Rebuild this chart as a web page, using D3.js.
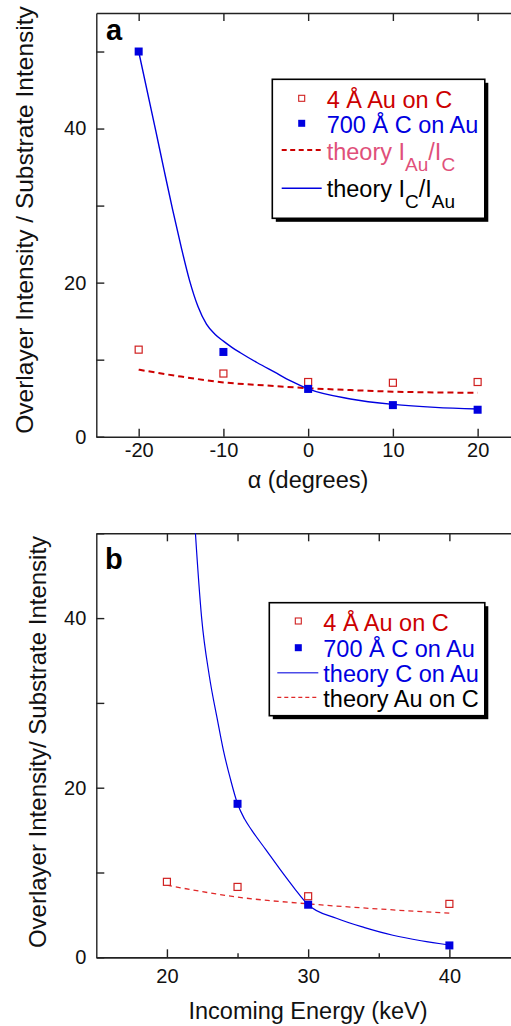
<!DOCTYPE html>
<html>
<head>
<meta charset="utf-8">
<script src="https://cdn.jsdelivr.net/npm/d3@7"></script>
<style>
  html, body { margin: 0; padding: 0; background: #fff; }
  svg { display: block; }
  text { font-family: "Liberation Sans", Arial, Helvetica, sans-serif; }
</style>
</head>
<body>
<svg id="chart" width="511" height="1026"></svg>
<script>
// ---------- DATA ----------
// Panel a: intensity ratio vs alpha (degrees)
const alphaDeg = [-20, -10, 0, 10, 20];
const auOnC_a = [11.3, 8.2, 7.1, 7.0, 7.1];       // 4 Å Au on C (open red squares)
const cOnAu_a = [50, 11.0, 6.2, 4.1, 3.5];        // 700 Å C on Au (filled blue squares)
const theoryAlphaRed = [-20, -15, -10, -5, 0, 5, 10, 15, 20];
const theoryAuC_a = [8.7, 7.8, 7.05, 6.65, 6.3, 6.05, 5.85, 5.75, 5.7];
const theoryAlphaBlue = [-20, -18, -17, -16, -15, -14, -13, -12, -11, -10, -9, -8, -6, -4, -2, 0, 5, 10, 15, 20];
const theoryCAu_a = [50, 39.8, 34.6, 29.5, 24.7, 20.3, 16.9, 14.6, 13.3, 12.4, 11.6, 10.9, 9.6, 8.4, 7.2, 6.2, 4.9, 4.2, 3.8, 3.6];
const alphaTicks = [-20, -10, 0, 10, 20];

// Panel b: intensity ratio vs incoming energy (keV)
const energyAuC = [20, 25, 30, 40];
const auOnC_b = [8.9, 8.3, 7.2, 6.3];
const energyCAu = [25, 30, 40];
const cOnAu_b = [18.1, 6.2, 1.4];
const theoryEnergyRed = [20, 25, 30, 35, 40];
const theoryAuC_b = [8.5, 7.1, 6.3, 5.7, 5.2];
const theoryEnergyBlue = [21.8, 22, 22.46, 23, 23.6, 24, 24.5, 25, 25.5, 26, 27, 28, 29, 30, 32, 34, 36, 38, 40];
const theoryCAu_b = [56, 50.5, 40, 33.2, 27.8, 24.4, 21.0, 18.1, 16.3, 15.0, 12.7, 10.4, 8.2, 6.2, 4.6, 3.5, 2.6, 1.95, 1.45];
const energyMajorTicks = [20, 30, 40];
const energyMinorTicks = [25, 35];

const yTicks = [0, 10, 20, 30, 40, 50];
const yLabelTicks = [0, 20, 40];

// ---------- STYLE ----------
const RED = "#cc0000", BLUE = "#0000e0", PINK = "#e0507a";
const AXIS = "#222";
const svg = d3.select("#chart");

function zip(xs, ys) { return xs.map((x, i) => [x, ys[i]]); }

function styleAxis(g) {
  g.selectAll("path.domain").attr("stroke", AXIS).attr("stroke-width", 1.4);
  g.selectAll(".tick line").attr("stroke", AXIS).attr("stroke-width", 1.4);
  g.selectAll(".tick text").attr("fill", "#111").style("font-size", "20px")
    .style("font-family", '"Liberation Sans", Arial, sans-serif');
}

function panel(cfg) {
  const x = d3.scaleLinear().domain(cfg.xDomain).range([96.3, 520]);
  const y = d3.scaleLinear().domain([0, cfg.yMax]).range([cfg.bottom, cfg.top]);
  const g = svg.append("g");

  const clipId = "clip" + cfg.name;
  svg.append("clipPath").attr("id", clipId).append("rect")
    .attr("x", 96.3).attr("y", cfg.top).attr("width", 430).attr("height", cfg.bottom - cfg.top);

  // axes
  g.append("g").attr("transform", `translate(96.3,0)`)
    .call(d3.axisLeft(y).tickValues(yTicks).tickSizeInner(-8).tickSizeOuter(0).tickPadding(10)
      .tickFormat(d => yLabelTicks.includes(d) ? d : ""))
    .call(styleAxis);
  g.append("g").attr("transform", `translate(0,${cfg.bottom})`)
    .call(d3.axisBottom(x).tickValues(cfg.xMajor).tickSizeInner(-8).tickSizeOuter(0).tickPadding(cfg.xPad)
      .tickFormat(d => d))
    .call(styleAxis);
  if (cfg.xMinor) {
    g.append("g").attr("transform", `translate(0,${cfg.bottom})`)
      .call(d3.axisBottom(x).tickValues(cfg.xMinor).tickSizeInner(-4).tickSizeOuter(0).tickFormat(""))
      .call(styleAxis);
  }
  g.append("g").attr("transform", `translate(0,${cfg.top})`)
    .call(d3.axisTop(x).tickValues(cfg.xTop).tickSizeInner(-8).tickSizeOuter(0).tickFormat(""))
    .call(styleAxis);

  const plot = g.append("g").attr("clip-path", `url(#${clipId})`);
  const line = d3.line().x(d => x(d[0])).y(d => y(d[1])).curve(d3.curveMonotoneX);

  plot.append("path").datum(zip(cfg.redTheoryX, cfg.redTheoryY))
    .attr("d", line).attr("fill", "none").attr("stroke", cfg.redLineColor)
    .attr("stroke-width", cfg.redLineWidth).attr("stroke-dasharray", cfg.redDash);
  plot.append("path").datum(zip(cfg.blueTheoryX, cfg.blueTheoryY))
    .attr("d", line).attr("fill", "none").attr("stroke", cfg.blueLineColor)
    .attr("stroke-width", cfg.blueLineWidth);

  // markers
  g.append("g").selectAll("rect").data(zip(cfg.redX, cfg.redY)).join("rect")
    .attr("x", d => x(d[0]) - 3.5).attr("y", d => y(d[1]) - 3.5)
    .attr("width", 7).attr("height", 7).attr("fill", "#fff")
    .attr("stroke", "#d02020").attr("stroke-width", 1.2);
  g.append("g").selectAll("rect").data(zip(cfg.blueX, cfg.blueY)).join("rect")
    .attr("x", d => x(d[0]) - 4).attr("y", d => y(d[1]) - 4)
    .attr("width", 8).attr("height", 8).attr("fill", BLUE);

  // panel letter
  g.append("text").attr("x", cfg.letterX).attr("y", cfg.letterY).text(cfg.name)
    .style("font-size", "29px").style("font-weight", "bold").attr("fill", "#000");

  // axis titles
  g.append("text").attr("x", 308).attr("y", cfg.xTitleY).attr("text-anchor", "middle")
    .style("font-size", "23.5px").attr("fill", "#111").text(cfg.xTitle);
  g.append("text")
    .attr("transform", `translate(${cfg.yTitleX},${cfg.yTitleCY}) rotate(-90)`)
    .attr("text-anchor", "middle").style("font-size", cfg.yTitleSize).attr("fill", "#111")
    .text(cfg.yTitle);

  // legend
  const L = cfg.legend;
  g.append("rect").attr("x", L.x + 3.5).attr("y", L.y + 3.5).attr("width", L.w).attr("height", L.h)
    .attr("fill", "#000");
  g.append("rect").attr("x", L.x).attr("y", L.y).attr("width", L.w).attr("height", L.h)
    .attr("fill", "#fff").attr("stroke", "#000").attr("stroke-width", 1.6);
  return { g, x, y };
}

// ---------- PANEL A ----------
const A = panel({
  name: "a", xDomain: [-25, 25], yMax: 55, top: 13, bottom: 436.7,
  xMajor: alphaTicks, xTop: alphaTicks, xPad: 6,
  redX: alphaDeg, redY: auOnC_a, blueX: alphaDeg, blueY: cOnAu_a,
  redTheoryX: theoryAlphaRed, redTheoryY: theoryAuC_a, redLineColor: RED, redLineWidth: 2, redDash: "6,4",
  blueTheoryX: theoryAlphaBlue, blueTheoryY: theoryCAu_a, blueLineColor: BLUE, blueLineWidth: 1.4,
  letterX: 106, letterY: 39.5,
  xTitle: "α (degrees)", xTitleY: 488,
  yTitle: "Overlayer Intensity / Substrate Intensity", yTitleX: 33, yTitleCY: 220, yTitleSize: "24.5px",
  legend: { x: 272.3, y: 79.3, w: 212.5, h: 139 }
});
(function () {
  const g = A.g;
  const tx = 326.7;
  g.append("rect").attr("x", 298.7).attr("y", 95.3).attr("width", 6).attr("height", 6)
    .attr("fill", "#fff").attr("stroke", "#d02020").attr("stroke-width", 1.1);
  g.append("rect").attr("x", 298.2).attr("y", 119.8).attr("width", 7).attr("height", 7).attr("fill", BLUE);
  g.append("line").attr("x1", 281.7).attr("x2", 321.7).attr("y1", 150).attr("y2", 150)
    .attr("stroke", RED).attr("stroke-width", 2).attr("stroke-dasharray", "5,3.5");
  g.append("line").attr("x1", 281.7).attr("x2", 321.7).attr("y1", 188.3).attr("y2", 188.3)
    .attr("stroke", BLUE).attr("stroke-width", 1.6);
  const fs = "23.5px";
  g.append("text").attr("x", tx).attr("y", 108).style("font-size", fs).attr("fill", RED).text("4 Å Au on C");
  g.append("text").attr("x", tx).attr("y", 132.7).style("font-size", fs).attr("fill", BLUE).text("700 Å C on Au");
  const t3 = g.append("text").attr("x", tx).attr("y", 160).style("font-size", fs).attr("fill", PINK);
  t3.append("tspan").text("theory I");
  t3.append("tspan").attr("dy", 11).style("font-size", "19px").text("Au");
  t3.append("tspan").attr("dy", -11).text("/I");
  t3.append("tspan").attr("dy", 11).style("font-size", "19px").text("C");
  const t4 = g.append("text").attr("x", tx).attr("y", 197.3).style("font-size", fs).attr("fill", "#000");
  t4.append("tspan").text("theory I");
  t4.append("tspan").attr("dy", 11).style("font-size", "19px").text("C");
  t4.append("tspan").attr("dy", -11).text("/I");
  t4.append("tspan").attr("dy", 11).style("font-size", "19px").text("Au");
})();

// ---------- PANEL B ----------
const B = panel({
  name: "b", xDomain: [15, 45], yMax: 50, top: 533.3, bottom: 957.3,
  xMajor: energyMajorTicks, xMinor: energyMinorTicks, xTop: energyMajorTicks.concat(energyMinorTicks), xPad: 12,
  redX: energyAuC, redY: auOnC_b, blueX: energyCAu, blueY: cOnAu_b,
  redTheoryX: theoryEnergyRed, redTheoryY: theoryAuC_b, redLineColor: "#e02828", redLineWidth: 1.3, redDash: "5,4",
  blueTheoryX: theoryEnergyBlue, blueTheoryY: theoryCAu_b, blueLineColor: BLUE, blueLineWidth: 1.2,
  letterX: 105, letterY: 569,
  xTitle: "Incoming Energy (keV)", xTitleY: 1019,
  yTitle: "Overlayer Intensity/ Substrate Intensity", yTitleX: 46, yTitleCY: 742, yTitleSize: "24px",
  legend: { x: 269.3, y: 602.7, w: 215.5, h: 113 }
});
(function () {
  const g = B.g;
  const tx = 323.3;
  g.append("rect").attr("x", 295.3).attr("y", 618).attr("width", 6).attr("height", 6)
    .attr("fill", "#fff").attr("stroke", "#d02020").attr("stroke-width", 1.1);
  g.append("rect").attr("x", 294.8).attr("y", 644.2).attr("width", 7).attr("height", 7).attr("fill", BLUE);
  g.append("line").attr("x1", 277.3).attr("x2", 318.3).attr("y1", 672.7).attr("y2", 672.7)
    .attr("stroke", "#4d4de8").attr("stroke-width", 1.4);
  g.append("line").attr("x1", 277.3).attr("x2", 318.3).attr("y1", 697.3).attr("y2", 697.3)
    .attr("stroke", "#e02828").attr("stroke-width", 1.2).attr("stroke-dasharray", "4,3");
  const fs = "23.5px";
  g.append("text").attr("x", tx).attr("y", 631).style("font-size", fs).attr("fill", RED).text("4 Å Au on C");
  g.append("text").attr("x", tx).attr("y", 656.7).style("font-size", fs).attr("fill", BLUE).text("700 Å C on Au");
  g.append("text").attr("x", tx).attr("y", 681.7).style("font-size", fs).attr("fill", BLUE).text("theory C on Au");
  g.append("text").attr("x", tx).attr("y", 707).style("font-size", fs).attr("fill", "#000").text("theory Au on C");
})();
</script>
</body>
</html>
